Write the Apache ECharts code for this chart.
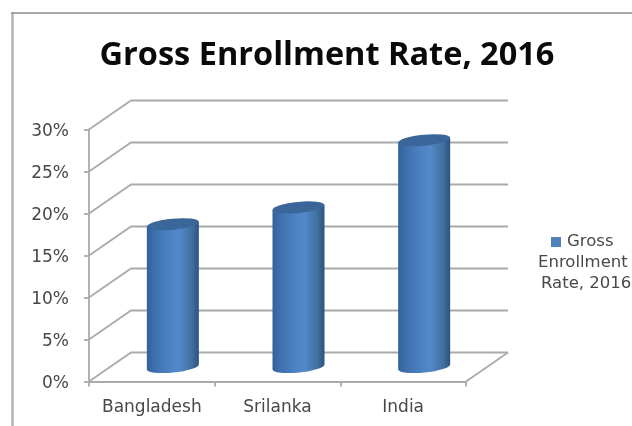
<!DOCTYPE html>
<html>
<head>
<meta charset="utf-8">
<style>html,body{margin:0;padding:0;background:#fff}#chart{width:632px;height:426px}</style>
<script src="https://cdn.jsdelivr.net/npm/echarts@6/dist/echarts.min.js"></script>
</head>
<body>
<div id="chart"></div>
<script>
const chartTitle = 'Gross Enrollment Rate, 2016';
const categories = ['Bangladesh', 'Srilanka', 'India'];
const enrollment = [17, 19, 27];
const valueTicks = [0, 5, 10, 15, 20, 25, 30];
const legendLines = ['Gross', 'Enrollment', 'Rate, 2016'];

// Oblique projection used for the box: how far the back wall sits from the front plane.
const depthX = 42, depthY = -29;
const cylinderWidth = 52, capRy = 5.5, capTilt = 2.5;
const gridColor = '#aaaaaa', textColor = '#484848';
const titleFont = '"Open Sans", "Noto Sans", sans-serif';
const labelFont = '"DejaVu Sans", sans-serif';

const chart = echarts.init(document.getElementById('chart'), null, {renderer: 'canvas'});

// Side-wall and back-wall line for one tick of the value axis.
function renderWallLine(params, api) {
  const sys = params.coordSys;
  const y = api.coord([0, api.value(0)])[1];
  const x0 = sys.x, x1 = sys.x + sys.width;
  const children = [{
    type: 'polyline',
    shape: {points: [[x0, y], [x0 + depthX, y + depthY], [x1 + depthX, y + depthY]]},
    style: {fill: null, stroke: gridColor, lineWidth: 1.8}
  }];
  if (api.value(0) === 0) {
    children.push({
      type: 'line',
      shape: {x1: x1, y1: y, x2: x1 + depthX, y2: y + depthY},
      style: {stroke: gridColor, lineWidth: 1.8}
    });
  }
  return {type: 'group', silent: true, children: children};
}

// Cylinder standing halfway into the depth of the box.
function renderCylinder(params, api) {
  const top = api.coord([api.value(0), api.value(1)]);
  const base = api.coord([api.value(0), 0]);
  const cx = top[0] + depthX / 2, yTop = top[1] + depthY / 2, yBase = base[1] + depthY / 2;
  const rx = cylinderWidth / 2, l = cx - rx, r = cx + rx;
  const arc = `A${rx},${capRy},-5.5,0,0`;
  const body = `M${l},${yTop + capTilt}L${l},${yBase + capTilt}${arc},${r},${yBase - capTilt}L${r},${yTop - capTilt}Z`;
  const cap = `M${l},${yTop + capTilt}${arc},${r},${yTop - capTilt}${arc},${l},${yTop + capTilt}Z`;
  return {
    type: 'group',
    children: [{
      type: 'path',
      shape: {pathData: body},
      style: {
        fill: new echarts.graphic.LinearGradient(0, 0, 1, 0, [
          {offset: 0, color: '#33609a'},
          {offset: 0.12, color: '#3c6da8'},
          {offset: 0.38, color: '#4a7fbf'},
          {offset: 0.62, color: '#5388ca'},
          {offset: 0.86, color: '#41709f'},
          {offset: 1, color: '#2c5180'}
        ])
      }
    }, {
      type: 'path',
      shape: {pathData: cap},
      style: {fill: '#3a6699'}
    }]
  };
}

chart.setOption({
  animation: false,
  backgroundColor: '#fff',
  title: {
    text: chartTitle,
    left: 322, top: 34, textAlign: 'center',
    textStyle: {fontFamily: titleFont, fontSize: 32.5, fontWeight: 'bold', color: '#0a0a0a'}
  },
  grid: {left: 89, top: 129.5, width: 377, height: 252},
  xAxis: {
    type: 'category',
    data: categories,
    axisLine: {lineStyle: {color: gridColor, width: 1.8}},
    axisTick: {show: true, length: 5, alignWithLabel: false, lineStyle: {color: gridColor, width: 1.8}},
    axisLabel: {color: textColor, fontFamily: labelFont, fontSize: 17, margin: 18, interval: 0}
  },
  yAxis: {
    type: 'value',
    min: 0, max: 30, interval: 5,
    axisLine: {show: true, lineStyle: {color: gridColor, width: 1.8}},
    axisTick: {show: true, length: 5, lineStyle: {color: gridColor, width: 1.8}},
    axisLabel: {
      margin: 20,
      formatter: '{tick|{value}%}',
      rich: {tick: {color: textColor, fontFamily: labelFont, fontSize: 17, padding: [5, 0, 0, 0]}}
    },
    splitLine: {show: false}
  },
  series: [{
    type: 'custom',
    coordinateSystem: 'cartesian2d',
    data: valueTicks.map(t => [t]),
    encode: {y: 0},
    clip: false,
    z: 1,
    renderItem: renderWallLine
  }, {
    type: 'custom',
    name: legendLines.join(' '),
    coordinateSystem: 'cartesian2d',
    data: enrollment.map((v, i) => [i, v]),
    encode: {x: 0, y: 1},
    clip: false,
    z: 2,
    renderItem: renderCylinder
  }],
  graphic: [{
    type: 'line',
    silent: true,
    shape: {x1: 12.5, y1: 13, x2: 12.5, y2: 440},
    style: {stroke: '#b4b4b4', lineWidth: 2.5}
  }, {
    type: 'line',
    silent: true,
    shape: {x1: 11, y1: 13, x2: 640, y2: 13},
    style: {stroke: '#8c8c8c', lineWidth: 1.6}
  }, {
    type: 'rect',
    silent: true,
    shape: {x: 551, y: 237, width: 10, height: 10},
    style: {fill: '#4f81bd'}
  }].concat(legendLines.map((line, i) => ({
    type: 'text',
    silent: true,
    x: i === 0 ? 567 : i === 1 ? 538 : 541,
    y: 242 + i * 21,
    style: {
      text: line, fill: textColor, font: '16.5px ' + labelFont,
      textAlign: 'left', textVerticalAlign: 'middle'
    }
  })))
});
</script>
</body>
</html>
